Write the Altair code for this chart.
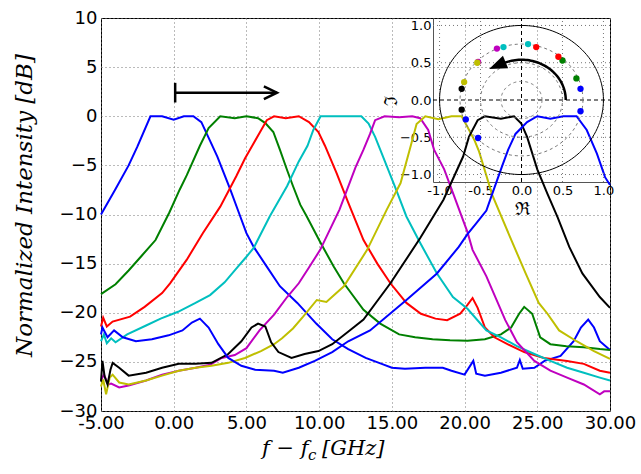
import altair as alt
import numpy as np
import pandas as pd

# ---------------- main curves (f - fc in GHz, normalized intensity in dB) ----------------
b1_x = [-5.0, -4.0, -3.1, -2.5, -1.6, -0.8, 0.0, 0.7, 1.35, 1.9, 2.5, 3.0, 3.9, 4.5, 5.0, 5.5, 6.4, 7.3, 8.5, 9.8,
        10.9, 12.0, 13.2, 14.3, 15.0, 15.9, 17.3, 18.5, 19.1, 20.0, 20.6, 20.8, 21.4, 22.5, 23.6, 23.8, 24.0, 24.8,
        25.5, 26.6, 27.5, 28.0, 28.5, 28.9, 29.3, 30.0]
b1_y = [-10.0, -7.4, -5.0, -3.1, 0.0, 0.0, -0.35, 0.0, 0.0, -0.6, -2.5, -4.1, -7.5, -9.9, -11.9, -13.3, -15.3, -17.3,
        -19.0, -21.1, -22.7, -23.7, -24.6, -25.2, -25.6, -25.7, -25.6, -25.6, -25.9, -26.3, -24.9, -26.2, -26.4, -26.1,
        -25.6, -24.8, -25.7, -25.6, -24.9, -24.4, -22.9, -21.5, -20.7, -21.5, -22.9, -23.8]

g_x = [-5.0, -4.0, -3.1, -2.2, -1.25, -0.3, 0.4, 0.9, 1.8, 2.4, 3.2, 4.2, 5.0, 5.8, 6.3, 6.85, 7.3, 7.8, 8.2, 8.7,
       9.15, 10.07, 11.0, 11.7, 13.05, 14.2, 15.5, 16.6, 17.8, 19.0, 20.2, 21.4, 22.5, 23.2, 23.75, 24.1, 24.65, 25.2,
       25.9, 27.0, 28.2, 29.3, 30.0]
g_y = [-18.1, -17.1, -15.7, -14.2, -12.6, -9.8, -7.5, -6.0, -3.0, -1.2, 0.0, -0.2, 0.0, -0.2, -0.7, -1.6, -3.4, -5.5,
       -7.1, -9.0, -10.2, -12.8, -15.3, -17.0, -19.7, -21.1, -22.2, -22.5, -22.7, -22.8, -22.85, -22.7, -22.2, -21.5,
       -20.1, -19.4, -20.1, -22.5, -23.2, -23.4, -23.5, -23.7, -23.8]

r_x = [-5.0, -4.85, -4.6, -4.2, -3.0, -2.0, -0.8, -0.25, 0.9, 2.0, 3.2, 4.3, 4.9, 5.4, 5.9, 6.4, 6.9, 7.7, 8.6, 9.3,
       9.95, 10.4, 11.2, 12.0, 13.05, 14.0, 14.9, 16.0, 17.0, 18.0, 18.8, 19.7, 20.2, 20.55, 20.9, 21.4, 22.05, 22.95,
       24.1, 25.45, 27.05, 28.2, 29.3, 30.0]
r_y = [-21.4, -20.5, -21.4, -20.9, -20.4, -19.4, -18.0, -17.0, -14.6, -11.9, -9.2, -6.1, -4.3, -3.0, -1.7, -0.4, 0.0,
       -0.2, 0.0, -0.6, -1.6, -3.0, -5.8, -8.8, -12.6, -15.0, -17.0, -19.0, -20.1, -20.6, -20.75, -20.1, -19.2, -18.5,
       -19.5, -21.5, -22.5, -23.2, -24.0, -24.6, -24.9, -25.2, -25.9, -26.1]

c_x = [-5.0, -4.8, -4.6, -4.3, -4.0, -3.2, -1.9, -0.9, 0.3, 1.5, 2.5, 3.5, 4.3, 5.0, 5.5, 6.6, 7.8, 8.6, 9.2, 9.6,
       10.1, 11.0, 12.0, 12.9, 13.4, 13.85, 14.2, 15.3, 16.0, 16.95, 18.1, 19.2, 20.2, 21.5, 22.5, 23.6, 24.8, 25.9,
       27.05, 28.2, 29.3, 30.0]
c_y = [-22.9, -22.2, -23.1, -22.6, -23.0, -22.2, -21.3, -20.6, -19.9, -19.0, -18.2, -16.9, -15.5, -14.3, -13.4, -10.2,
       -7.1, -4.6, -3.0, -1.4, 0.0, 0.0, 0.0, 0.0, -0.75, -2.1, -3.4, -7.5, -10.2, -12.9, -16.0, -18.4, -19.6, -21.8,
       -22.5, -23.4, -24.2, -24.9, -25.6, -26.1, -26.6, -26.9]

m_x = [-5.0, -4.8, -4.5, -4.3, -3.75, -3.1, -1.9, -0.8, 0.35, 1.5, 2.5, 3.3, 4.2, 5.0, 5.9, 6.9, 7.8, 8.6, 9.3, 10.07,
       11.4, 12.5, 13.05, 13.5, 13.85, 14.5, 15.5, 16.4, 16.95, 17.5, 17.9, 18.6, 19.2, 20.2, 20.55, 21.5, 22.8, 23.6,
       24.8, 25.9, 27.05, 28.2, 29.3, 29.6, 30.0]
m_y = [-26.9, -26.3, -27.3, -27.2, -27.6, -27.4, -26.9, -26.3, -25.9, -25.6, -25.3, -24.6, -24.3, -23.6, -21.8, -20.2,
       -18.4, -17.0, -15.4, -13.6, -9.5, -5.2, -3.4, -1.8, -0.4, 0.0, -0.1, 0.0, -0.2, -1.4, -3.4, -5.4, -7.8, -11.8,
       -13.6, -16.3, -20.75, -23.0, -24.9, -25.9, -26.6, -27.3, -28.3, -28.0, -28.0]

y_x = [-5.0, -4.85, -4.65, -4.4, -4.2, -3.75, -3.1, -1.9, -0.8, 0.35, 1.5, 2.6, 3.75, 4.9, 6.0, 6.9, 7.45, 8.2, 8.9,
       9.84, 10.5, 11.7, 13.3, 14.65, 15.6, 16.3, 16.7, 17.3, 18.2, 19.1, 19.8, 20.2, 20.7, 21.0, 21.9, 23.1, 24.2,
       25.1, 25.7, 26.5, 27.7, 28.9, 30.0]
y_y = [-27.5, -26.8, -28.3, -26.6, -26.3, -27.1, -27.3, -26.9, -26.4, -25.9, -25.6, -25.4, -25.1, -24.6, -23.9, -23.2,
       -22.6, -21.6, -20.4, -18.7, -18.9, -17.3, -13.6, -9.5, -6.8, -3.0, -0.8, 0.0, -0.3, 0.0, 0.0, -1.1, -2.5, -3.6,
       -8.0, -12.2, -16.0, -19.0, -20.1, -21.8, -22.9, -23.9, -24.7]

k_x = [-5.0, -4.9, -4.75, -4.55, -4.35, -4.2, -3.75, -3.1, -1.9, -0.8, 0.35, 1.5, 2.6, 3.75, 4.65, 5.35, 5.8, 6.3, 6.7,
       7.2, 8.1, 9.0, 9.95, 10.9, 12.1, 13.05, 14.9, 16.95, 18.55, 19.9, 20.3, 20.9, 21.4, 22.5, 23.4, 23.9, 24.3,
       25.0, 25.7, 26.4, 27.2, 28.1, 29.3, 30.0]
k_y = [-27.0, -24.9, -26.5, -27.3, -25.8, -25.1, -25.6, -26.4, -26.1, -25.6, -25.2, -25.2, -25.1, -24.2, -22.9, -21.5,
       -21.1, -21.4, -23.0, -24.0, -24.6, -24.2, -23.9, -23.2, -21.8, -20.7, -17.0, -12.4, -8.5, -4.1, -2.1, -0.4, 0.0,
       -0.25, 0.0, -0.75, -2.1, -5.4, -7.9, -10.3, -13.3, -16.0, -18.4, -19.5]

b2_x = [-5.0, -4.9, -4.55, -4.1, -3.5, -2.6, -1.5, -0.35, 0.6, 1.25, 1.8, 2.4, 3.07, 3.75, 4.65, 5.6, 6.9, 7.5, 8.6,
        9.7, 10.9, 12.0, 13.5, 16.0, 18.1, 19.6, 20.2, 20.8, 21.5, 22.0, 22.6, 23.0, 23.5, 24.3, 25.0, 25.9, 26.8,
        27.7, 28.4, 29.1, 29.66, 30.0]
b2_y = [-22.2, -21.5, -22.5, -21.8, -22.5, -22.9, -22.7, -22.3, -21.8, -21.0, -20.6, -21.5, -23.2, -24.6, -25.4, -25.8,
        -25.9, -26.1, -25.6, -24.9, -24.0, -22.9, -21.8, -18.7, -16.0, -13.3, -12.0, -10.9, -9.6, -7.5, -5.0, -3.4,
        -1.8, -0.6, 0.0, -0.25, 0.0, 0.0, -1.4, -3.8, -6.2, -7.0]

SERIES = ["b1", "g", "r", "c", "m", "y", "k", "b2"]
COLORS = ["#0000ff", "#008000", "#ff0000", "#00bfbf", "#bf00bf", "#bfbf00", "#000000", "#0000ff"]

x_ticks = [-5, 0, 5, 10, 15, 20, 25, 30]
y_ticks = [-30, -25, -20, -15, -10, -5, 0, 5, 10]

# arrow annotation in the main panel (data coordinates)
arrow_seg = ["shaft", "shaft", "bar", "bar", "head", "head", "head"]
arrow_f = [0.1, 7.1, 0.1, 0.1, 6.2, 7.1, 6.2]
arrow_v = [2.4, 2.4, 1.4, 3.4, 3.05, 2.4, 1.75]
arrow_o = [0, 1, 0, 1, 0, 1, 2]

# ---------------- inset (complex plane) ----------------
pt_re = [0.72, 0.72, 0.67, 0.50, 0.45, 0.18, 0.08, -0.22, -0.30, -0.53, -0.54, -0.70, -0.73, -0.73, -0.68, -0.53]
pt_im = [0.15, -0.15, 0.29, 0.53, 0.58, 0.71, 0.75, 0.71, 0.69, 0.51, 0.50, 0.24, 0.15, -0.13, -0.26, -0.51]
pt_s = ["b1", "b1", "g", "g", "r", "r", "c", "c", "m", "m", "y", "y", "k", "k", "b2", "b2"]
inset_ticks = [-1.0, -0.5, 0.0, 0.5, 1.0]
grid_vals = [-1.0, -0.5, 0.5, 1.0]
dashed_radii = [0.25, 0.5, 0.75]
outer_radius = 1.0
arc_radius = 0.54
arc_end_deg = 112
head_re, head_im = -0.27, 0.475
HEAD_PATH = "M-0.92,0.39L0.786,0.318L0.318,-0.786Z"

# ---------------- build tables ----------------
frames = []
for name, xs, ys in [("b1", b1_x, b1_y), ("g", g_x, g_y), ("r", r_x, r_y), ("c", c_x, c_y),
                     ("m", m_x, m_y), ("y", y_x, y_y), ("k", k_x, k_y), ("b2", b2_x, b2_y)]:
    assert len(xs) == len(ys), name
    frames.append(pd.DataFrame({"s": name, "f": xs, "v": ys, "o": list(range(len(xs)))}))
curves = pd.concat(frames, ignore_index=True)

arrow_df = pd.DataFrame({"seg": arrow_seg, "f": arrow_f, "v": arrow_v, "o": arrow_o})

th = np.linspace(0, 2 * np.pi, 145)
circ_rows = []
for rr in dashed_radii:
    for i, t in enumerate(th):
        circ_rows.append({"rad": rr, "re": rr * np.cos(t), "im": rr * np.sin(t), "o": i})
circ_df = pd.DataFrame(circ_rows)
outer_df = pd.DataFrame({"re": outer_radius * np.cos(th), "im": outer_radius * np.sin(th), "o": range(len(th))})
ta = np.radians(np.linspace(0, arc_end_deg, 50))
arc_df = pd.DataFrame({"re": arc_radius * np.cos(ta), "im": arc_radius * np.sin(ta), "o": range(len(ta))})
head_df = pd.DataFrame({"re": [head_re], "im": [head_im]})
pts_df = pd.DataFrame({"re": pt_re, "im": pt_im, "s": pt_s})

XD = [-1.08, 1.08]
YD = [-1.1, 1.1]
vgrid_df = pd.DataFrame({"gx": grid_vals, "lo": YD[0], "hi": YD[1]})
hgrid_df = pd.DataFrame({"gy": grid_vals, "lo": XD[0], "hi": XD[1]})
vzero_df = pd.DataFrame({"gx": [0.0], "lo": [YD[0]], "hi": [YD[1]]})
hzero_df = pd.DataFrame({"gy": [0.0], "lo": [XD[0]], "hi": [XD[1]]})

# ---------------- scales & axes ----------------
W, H = 509, 393
color_scale = alt.Scale(domain=SERIES, range=COLORS)


def x_main():
    return alt.Scale(domain=[-5, 30], nice=False, zero=False)


def y_main():
    return alt.Scale(domain=[-30, 10], nice=False, zero=False)


def x_in():
    return alt.Scale(domain=XD, range=[332, 509], nice=False, zero=False)


def y_in():
    return alt.Scale(domain=YD, range=[164, 0], nice=False, zero=False)


hyphen2 = "(datum.value < 0 ? '-' : '') + format(abs(datum.value), '.2f')"
hyphen1 = "(datum.value < 0 ? '-' : '') + format(abs(datum.value), '.1f')"

x_axis = alt.Axis(orient="bottom", values=x_ticks, title=None, labelExpr=hyphen2, labelFont="DejaVu Sans",
                  labelFontSize=18, labelColor="black", labelPadding=3, ticks=False, domain=False, grid=True,
                  gridColor="#777", gridDash=[1, 3], gridWidth=1, labelOverlap=False, labelFlush=False)
y_axis = alt.Axis(orient="left", values=y_ticks, format="d", title="Normalized Intensity [dB]",
                  titleFont="DejaVu Serif", titleFontStyle="italic", titleFontWeight="normal", titleFontSize=23,
                  titleColor="black", titleX=-77, titleY=187, titleAngle=270, titleAlign="center",
                  titleBaseline="middle", labelFont="DejaVu Sans", labelFontSize=18, labelColor="black",
                  labelPadding=4, ticks=False, domain=False, grid=True, gridColor="#777", gridDash=[1, 3],
                  gridWidth=1, labelOverlap=False, labelFlush=False)

x_in_axis = alt.Axis(orient="bottom", offset=-229, values=inset_ticks, labelExpr=hyphen1, labelFont="DejaVu Sans",
                     labelFontSize=13, labelColor="black", labelPadding=2, ticks=False, domain=True,
                     domainColor="#555", grid=False, title="ℜ", titleFont="DejaVu Serif", titleFontSize=18,
                     titleFontWeight="normal", titleColor="black", titleY=27, titleBaseline="middle",
                     labelOverlap=False, labelFlush=False)
y_in_axis = alt.Axis(orient="left", offset=-332, values=inset_ticks, format=".1f", labelFont="DejaVu Sans",
                     labelFontSize=13, labelColor="black", labelPadding=2, ticks=False, domain=True,
                     domainColor="#555", grid=False, title="ℑ", titleFont="DejaVu Serif", titleFontSize=18,
                     titleFontWeight="normal", titleColor="black", titleX=-42, titleY=82, titleAngle=270,
                     titleBaseline="middle", titleAlign="center", labelOverlap=False, labelFlush=False)

# ---------------- main layers ----------------
lines = alt.Chart(curves).mark_line(strokeWidth=2).encode(
    x=alt.X("f:Q", scale=x_main(), axis=x_axis),
    y=alt.Y("v:Q", scale=y_main(), axis=y_axis),
    color=alt.Color("s:N", scale=color_scale, legend=None),
    order="o:Q",
)
arrow = alt.Chart(arrow_df).mark_line(color="black", strokeWidth=2.5).encode(
    x=alt.X("f:Q", scale=x_main(), axis=None),
    y=alt.Y("v:Q", scale=y_main(), axis=None),
    detail="seg:N",
    order="o:Q",
)
tstyle = dict(font="DejaVu Serif", fontStyle="italic", color="black", align="left", baseline="alphabetic")
xt1 = alt.Chart(pd.DataFrame({"t": ["f − f"]})).mark_text(fontSize=21, **tstyle).encode(
    text="t:N", x=alt.value(161), y=alt.value(437))
xt2 = alt.Chart(pd.DataFrame({"t": ["c"]})).mark_text(fontSize=15, **tstyle).encode(
    text="t:N", x=alt.value(207), y=alt.value(442))
xt3 = alt.Chart(pd.DataFrame({"t": ["[GHz]"]})).mark_text(fontSize=21, **tstyle).encode(
    text="t:N", x=alt.value(221), y=alt.value(437))


# ---------------- inset layers ----------------
def ix(field, axis=None):
    return alt.X(field, scale=x_in(), axis=axis)


def iy(field, axis=None):
    return alt.Y(field, scale=y_in(), axis=axis)


vgrid = alt.Chart(vgrid_df).mark_rule(color="#777", strokeDash=[1, 3], strokeWidth=1).encode(
    x=ix("gx:Q"), y=iy("lo:Q"), y2="hi:Q")
hgrid = alt.Chart(hgrid_df).mark_rule(color="#777", strokeDash=[1, 3], strokeWidth=1).encode(
    y=iy("gy:Q"), x=ix("lo:Q"), x2="hi:Q")
vzero = alt.Chart(vzero_df).mark_rule(color="black", strokeDash=[4, 3], strokeWidth=1).encode(
    x=ix("gx:Q"), y=iy("lo:Q"), y2="hi:Q")
hzero = alt.Chart(hzero_df).mark_rule(color="black", strokeDash=[4, 3], strokeWidth=1).encode(
    y=iy("gy:Q"), x=ix("lo:Q"), x2="hi:Q")
dcirc = alt.Chart(circ_df).mark_line(color="#777", strokeDash=[3, 3], strokeWidth=1).encode(
    x=ix("re:Q"), y=iy("im:Q"), detail="rad:N", order="o:Q")
ocirc = alt.Chart(outer_df).mark_line(color="black", strokeWidth=1).encode(
    x=ix("re:Q"), y=iy("im:Q"), order="o:Q")
arc = alt.Chart(arc_df).mark_line(color="black", strokeWidth=2.5).encode(
    x=ix("re:Q"), y=iy("im:Q"), order="o:Q")
head = alt.Chart(head_df).mark_point(shape=HEAD_PATH, filled=True, color="black", size=500,
                                     opacity=1).encode(x=ix("re:Q"), y=iy("im:Q"))
pts = alt.Chart(pts_df).mark_circle(size=40, opacity=1).encode(
    x=ix("re:Q", x_in_axis), y=iy("im:Q", y_in_axis),
    color=alt.Color("s:N", scale=color_scale, legend=None))

chart = alt.layer(lines, arrow, xt1, xt2, xt3, vgrid, hgrid, vzero, hzero, dcirc, ocirc, arc, head, pts
                  ).resolve_scale(x="independent", y="independent").properties(
    width=W, height=H,
    padding={"left": 101, "top": 18, "right": 31, "bottom": 63},
    autosize=alt.AutoSizeParams(type="none"),
    background="white",
).configure_view(stroke="black", strokeWidth=1)

chart.save("out.html", embed_options={"renderer": "svg", "actions": False})
